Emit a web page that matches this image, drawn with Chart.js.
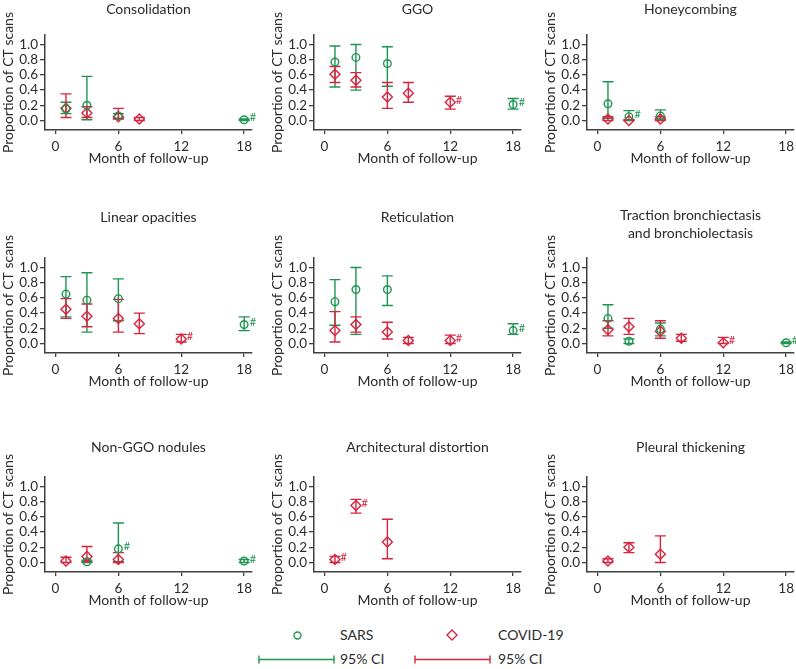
<!DOCTYPE html>
<html>
<head>
  <meta charset="utf-8">
  <title>CT findings during follow-up: SARS vs COVID-19</title>
  <script src="https://cdn.jsdelivr.net/npm/chart.js"></script>
  <style>
    body {
      margin: 0;
      background: #ffffff;
      font-family: Lato, sans-serif;
      color: #2b2b2b;
    }
    #wrap {
      position: relative;
      width: 796px;
      height: 669px;
      overflow: hidden;
    }
    #wrap canvas { position: absolute; }
    .lg {
      position: absolute;
      font-size: 14px;
      line-height: 18px;
      color: #2b2b2b;
      white-space: nowrap;
    }
    .lg svg { position: absolute; }
  </style>
</head>
<body>
  <div id="wrap">
    <div class="lg" style="left:293px;top:631px;"><svg width="9" height="9"><circle cx="4.5" cy="4.5" r="3.5" fill="none" stroke="#1f9552" stroke-width="1.4"/></svg></div>
    <div class="lg" style="left:340px;top:626px;">SARS</div>
    <div class="lg" style="left:446px;top:629px;"><svg width="12" height="12"><path d="M6 1 L11 6 L6 11 L1 6 Z" fill="none" stroke="#d8243f" stroke-width="1.4"/></svg></div>
    <div class="lg" style="left:498px;top:626px;">COVID-19</div>
    <div class="lg" style="left:258px;top:654px;"><svg width="78" height="11"><path d="M1 1.5 V9.5 M1 5.5 H76 M76 1.5 V9.5" fill="none" stroke="#1f9552" stroke-width="1.4"/></svg></div>
    <div class="lg" style="left:340px;top:650px;">95% CI</div>
    <div class="lg" style="left:414px;top:654px;"><svg width="78" height="11"><path d="M1 1.5 V9.5 M1 5.5 H76 M76 1.5 V9.5" fill="none" stroke="#d8243f" stroke-width="1.4"/></svg></div>
    <div class="lg" style="left:498px;top:650px;">95% CI</div>
  </div>

  <script>
    // each row: [month, proportion, 95% CI low, 95% CI high, # flag]
    const sarsConsolidation  = [[1, 0.15, 0.09, 0.24, 0], [3, 0.20, 0.01, 0.58, 0], [6, 0.06, 0.03, 0.09, 0], [18, 0.01, 0.00, 0.02, 1]];
    const covidConsolidation = [[1, 0.16, 0.04, 0.35, 0], [3, 0.10, 0.04, 0.18, 0], [6, 0.05, 0.02, 0.16, 0], [8, 0.02, 0.00, 0.04, 0]];

    const sarsGgo  = [[1, 0.77, 0.44, 0.98, 0], [3, 0.83, 0.40, 1.00, 0], [6, 0.75, 0.45, 0.97, 0], [18, 0.21, 0.15, 0.29, 1]];
    const covidGgo = [[1, 0.61, 0.50, 0.71, 0], [3, 0.53, 0.44, 0.63, 0], [6, 0.31, 0.16, 0.50, 0], [8, 0.36, 0.24, 0.50, 0], [12, 0.24, 0.15, 0.32, 1]];

    const sarsHoneycombing  = [[1, 0.22, 0.03, 0.51, 0], [3, 0.05, 0.01, 0.13, 1], [6, 0.06, 0.02, 0.14, 0]];
    const covidHoneycombing = [[1, 0.02, 0.00, 0.05, 0], [3, 0.00, 0.00, 0.01, 0], [6, 0.02, 0.00, 0.05, 0]];

    const sarsLinear  = [[1, 0.65, 0.35, 0.88, 0], [3, 0.57, 0.15, 0.93, 0], [6, 0.59, 0.30, 0.85, 0], [18, 0.25, 0.17, 0.35, 1]];
    const covidLinear = [[1, 0.45, 0.33, 0.59, 0], [3, 0.36, 0.22, 0.52, 0], [6, 0.33, 0.15, 0.58, 0], [8, 0.26, 0.13, 0.40, 0], [12, 0.06, 0.02, 0.12, 1]];

    const sarsReticulation  = [[1, 0.55, 0.24, 0.84, 0], [3, 0.71, 0.12, 1.00, 0], [6, 0.71, 0.50, 0.89, 0], [18, 0.17, 0.12, 0.26, 1]];
    const covidReticulation = [[1, 0.17, 0.02, 0.42, 0], [3, 0.25, 0.15, 0.35, 0], [6, 0.15, 0.06, 0.28, 0], [8, 0.04, 0.00, 0.08, 0], [12, 0.04, 0.00, 0.11, 1]];

    const sarsTraction  = [[1, 0.33, 0.20, 0.51, 0], [3, 0.03, 0.00, 0.06, 0], [6, 0.19, 0.10, 0.27, 0], [18, 0.01, 0.00, 0.02, 1]];
    const covidTraction = [[1, 0.18, 0.10, 0.30, 0], [3, 0.22, 0.12, 0.33, 0], [6, 0.16, 0.07, 0.30, 0], [8, 0.07, 0.03, 0.12, 0], [12, 0.01, 0.00, 0.08, 1]];

    const sarsNodules  = [[3, 0.01, 0.00, 0.03, 0], [6, 0.18, 0.01, 0.52, 1], [18, 0.02, 0.00, 0.04, 1]];
    const covidNodules = [[1, 0.02, 0.00, 0.07, 0], [3, 0.08, 0.01, 0.21, 0], [6, 0.04, 0.00, 0.13, 0]];

    const sarsDistortion  = [];
    const covidDistortion = [[1, 0.04, 0.00, 0.08, 1], [3, 0.75, 0.65, 0.83, 1], [6, 0.27, 0.05, 0.57, 0]];

    const sarsPleural  = [];
    const covidPleural = [[1, 0.02, 0.00, 0.05, 0], [3, 0.20, 0.13, 0.26, 0], [6, 0.11, 0.00, 0.35, 0]];

    const panelTitles = [
      'Consolidation', 'GGO', 'Honeycombing',
      'Linear opacities', 'Reticulation', ['Traction bronchiectasis', 'and bronchiolectasis'],
      'Non-GGO nodules', 'Architectural distortion', 'Pleural thickening'
    ];
    const sarsSeries  = [sarsConsolidation, sarsGgo, sarsHoneycombing, sarsLinear, sarsReticulation, sarsTraction, sarsNodules, sarsDistortion, sarsPleural];
    const covidSeries = [covidConsolidation, covidGgo, covidHoneycombing, covidLinear, covidReticulation, covidTraction, covidNodules, covidDistortion, covidPleural];

    const monthTicks = [0, 6, 12, 18];
    const proportionTicks = [0, 0.2, 0.4, 0.6, 0.8, 1.0];

    const GREEN = '#1f9552';
    const RED = '#d8243f';
    const AXIS = '#404040';
    const TEXT = '#2b2b2b';
    const FONT = 'Lato, sans-serif';

    // layout of the 3x3 grid
    const colLeft = [0, 269, 542];
    const rowTop = [0, 200, 420];
    const rowAxisTop = [35, 58, 57];

    // draws the 95% CI whiskers and the # markers
    const errorBars = {
      id: 'errorBars',
      beforeDatasetsDraw(chart) {
        const ctx = chart.ctx;
        const xs = chart.scales.x, ys = chart.scales.y;
        chart.data.datasets.forEach(ds => {
          ctx.save();
          ctx.strokeStyle = ds.borderColor;
          ctx.lineWidth = 1.4;
          ds.data.forEach(d => {
            const px = xs.getPixelForValue(d.x);
            const top = ys.getPixelForValue(d.hi);
            const bot = ys.getPixelForValue(d.lo);
            ctx.beginPath();
            ctx.moveTo(px, top); ctx.lineTo(px, bot);
            ctx.moveTo(px - 5.5, top); ctx.lineTo(px + 5.5, top);
            ctx.moveTo(px - 5.5, bot); ctx.lineTo(px + 5.5, bot);
            ctx.stroke();
          });
          ctx.restore();
        });
      },
      afterDatasetsDraw(chart) {
        const ctx = chart.ctx;
        const xs = chart.scales.x, ys = chart.scales.y;
        chart.data.datasets.forEach(ds => {
          ctx.save();
          ctx.fillStyle = ds.borderColor;
          ctx.font = '11px ' + FONT;
          ctx.textBaseline = 'middle';
          ds.data.forEach(d => {
            if (!d.flag) return;
            ctx.fillText('#', xs.getPixelForValue(d.x) + 5.5, ys.getPixelForValue(d.y) - 2);
          });
          ctx.restore();
        });
      }
    };

    const toPoints = rows => rows.map(r => ({ x: r[0], y: r[1], lo: r[2], hi: r[3], flag: r[4] }));

    function titlePadding(row, title) {
      if (row === 0) return { top: 0, bottom: 17 };
      if (row === 2) return { top: 18, bottom: 21 };
      return Array.isArray(title) ? { top: 6, bottom: 16 } : { top: 8, bottom: 32 };
    }

    panelTitles.forEach((title, i) => {
      const col = i % 3, row = Math.floor(i / 3);
      const canvas = document.createElement('canvas');
      canvas.width = 264;
      canvas.height = rowAxisTop[row] + 95 + 40;
      canvas.style.left = colLeft[col] + 'px';
      canvas.style.top = rowTop[row] + 'px';
      document.getElementById('wrap').appendChild(canvas);

      new Chart(canvas, {
        type: 'scatter',
        data: {
          datasets: [
            {
              label: 'SARS',
              data: toPoints(sarsSeries[i]),
              pointStyle: 'circle',
              pointRadius: 3.8,
              borderColor: GREEN,
              backgroundColor: 'rgba(0,0,0,0)',
              pointBorderWidth: 1.4
            },
            {
              label: 'COVID-19',
              data: toPoints(covidSeries[i]),
              pointStyle: 'rectRot',
              pointRadius: 5,
              borderColor: RED,
              backgroundColor: 'rgba(0,0,0,0)',
              pointBorderWidth: 1.4
            }
          ]
        },
        options: {
          responsive: false,
          animation: false,
          events: [],
          layout: { padding: { left: 0, right: 12, top: 0, bottom: 0 }, autoPadding: false },
          plugins: {
            legend: { display: false },
            tooltip: { enabled: false },
            title: {
              display: true,
              text: title,
              fullSize: false,
              color: TEXT,
              font: { family: FONT, size: 14, weight: 'normal', lineHeight: 18 / 14 },
              padding: titlePadding(row, title)
            }
          },
          scales: {
            x: {
              type: 'linear',
              min: -1,
              max: 18.75,
              afterBuildTicks: s => { s.ticks = monthTicks.map(v => ({ value: v })); },
              afterFit: s => { s.height = 40; },
              ticks: { color: TEXT, font: { family: FONT, size: 13.5 }, padding: 5, maxRotation: 0, autoSkip: false },
              grid: { drawOnChartArea: false, color: AXIS, tickLength: 4, lineWidth: 1.3 },
              border: { color: AXIS, width: 1.5 },
              title: {
                display: true,
                text: 'Month of follow-up',
                color: TEXT,
                font: { family: FONT, size: 14 },
                padding: { top: 0, bottom: 3 }
              }
            },
            y: {
              min: -0.125,
              max: 1.125,
              afterBuildTicks: s => { s.ticks = proportionTicks.map(v => ({ value: v })); },
              afterFit: s => { s.width = 45; },
              ticks: { color: TEXT, font: { family: FONT, size: 13.5 }, padding: 2, autoSkip: false, callback: v => v.toFixed(1) },
              grid: { drawOnChartArea: false, color: AXIS, tickLength: 5, lineWidth: 1.3 },
              border: { color: AXIS, width: 1.5 },
              title: {
                display: true,
                text: 'Proportion of CT scans',
                color: TEXT,
                font: { family: FONT, size: 14 },
                padding: 0
              }
            }
          }
        },
        plugins: [errorBars]
      });
    });
  </script>
</body>
</html>
